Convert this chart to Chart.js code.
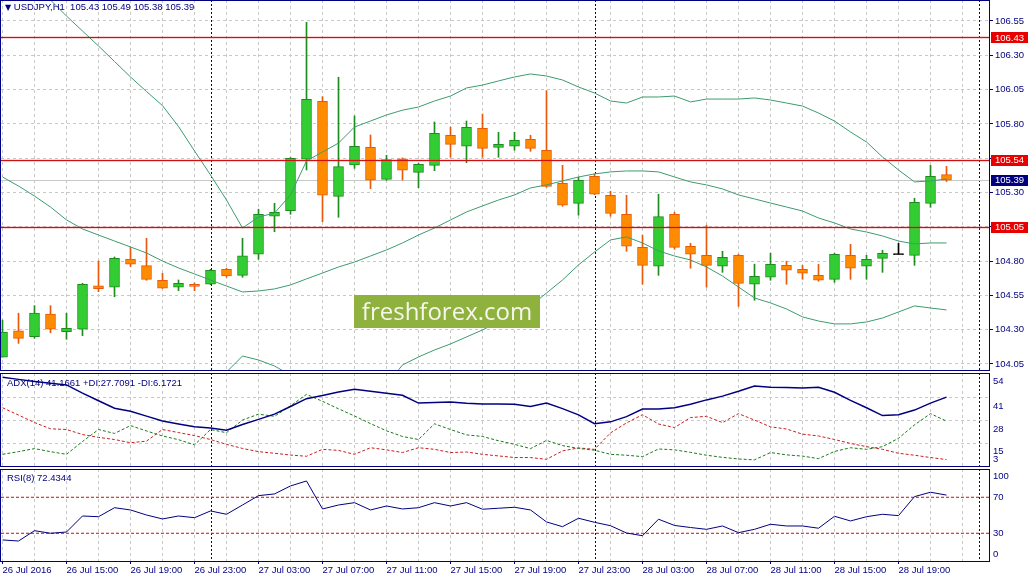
<!DOCTYPE html>
<html>
<head>
<meta charset="utf-8">
<title>USDJPY H1</title>
<script src="https://cdn.jsdelivr.net/npm/chart.js@4.4.1/dist/chart.umd.min.js"></script>
<style>
  html, body { margin: 0; padding: 0; background: #fff; }
  #wrap { position: relative; width: 1031px; height: 581px; overflow: hidden; background: #fff; }
  canvas { position: absolute; left: 0; }
  .txt { position: absolute; z-index: 2; font: 9.5px "Liberation Sans", Arial, sans-serif; color: #000080; white-space: pre; line-height: 12px; }
  #wm { position: absolute; z-index: 3; left: 354px; top: 295px; width: 186px; height: 33px; background: #8fb23f; color: #f6f6ea; font: 24px "Open Sans", sans-serif; line-height: 32px; text-align: center; }
</style>
</head>
<body>
<div id="wrap">
  <canvas id="mainChart" width="1031" height="371" style="top:0"></canvas>
  <canvas id="adxChart" width="1031" height="96" style="top:372px"></canvas>
  <canvas id="rsiChart" width="1031" height="113" style="top:468px"></canvas>
  <div class="txt" style="left:5px;top:1px"><span style="font:8px 'DejaVu Sans'">&#9660;</span> USDJPY,H1  105.43 105.49 105.38 105.39</div>
  <div class="txt" style="left:7px;top:377px">ADX(14) 41.1661 +DI:27.7091 -DI:6.1721</div>
  <div class="txt" style="left:7px;top:472px">RSI(8) 72.4344</div>
  <div id="wm">freshforex.com</div>
</div>
<script>
// ---- candles (H1, 26 Jul 11:00 .. 28 Jul 22:00) ----
const open  = [104.100,104.291,104.249,104.414,104.285,104.303,104.619,104.609,104.815,104.767,
               104.660,104.609,104.631,104.631,104.740,104.696,104.850,105.127,105.167,105.542,
               105.965,105.272,105.500,105.629,105.396,105.546,105.447,105.498,105.717,105.637,
               105.768,105.629,105.637,105.688,105.608,105.367,105.221,105.418,105.280,105.141,
               104.900,104.762,105.141,104.908,104.842,104.762,104.842,104.631,104.682,104.769,
               104.740,104.696,104.667,104.842,104.762,104.820,104.850,104.842,105.221,105.430];
const high  = [104.370,104.420,104.475,104.475,104.420,104.638,104.800,104.830,104.900,104.966,
               104.711,104.662,104.640,104.740,104.748,104.966,105.178,105.221,105.555,106.540,
               105.998,106.140,105.858,105.719,105.571,105.552,105.512,105.814,105.777,105.821,
               105.872,105.739,105.739,105.717,106.042,105.498,105.411,105.435,105.309,105.280,
               104.988,105.287,105.156,104.930,105.061,104.871,104.850,104.777,104.857,104.799,
               104.769,104.777,104.857,104.922,104.842,104.879,104.930,105.258,105.498,105.490];
const low   = [104.100,104.200,104.237,104.278,104.230,104.256,104.577,104.540,104.760,104.660,
               104.600,104.584,104.584,104.628,104.682,104.682,104.813,105.014,105.141,105.464,
               105.087,105.119,105.476,105.328,105.389,105.391,105.335,105.459,105.557,105.517,
               105.557,105.557,105.608,105.600,105.338,105.199,105.134,105.284,105.127,104.871,
               104.631,104.696,104.886,104.748,104.609,104.718,104.470,104.514,104.660,104.631,
               104.667,104.653,104.645,104.667,104.667,104.718,104.850,104.769,105.192,105.380];
const close = [104.283,104.237,104.420,104.303,104.310,104.631,104.599,104.820,104.777,104.667,
               104.602,104.638,104.616,104.733,104.691,104.839,105.141,105.156,105.549,105.979,
               105.280,105.488,105.637,105.389,105.539,105.462,105.506,105.731,105.651,105.775,
               105.622,105.651,105.680,105.622,105.345,105.207,105.389,105.287,105.148,104.908,
               104.769,105.124,104.900,104.850,104.769,104.828,104.638,104.689,104.777,104.733,
               104.711,104.660,104.850,104.748,104.813,104.857,104.850,105.229,105.418,105.390];

// ---- Bollinger bands ----
const bbUpper = [107.030,106.907,106.790,106.703,106.586,106.477,106.368,106.255,106.142,106.036,
                 105.933,105.781,105.603,105.428,105.245,105.041,105.121,105.150,105.282,105.530,
                 105.595,105.660,105.777,105.821,105.865,105.900,105.923,105.967,106.003,106.062,
                 106.083,106.113,106.142,106.164,106.149,106.120,106.069,106.025,105.967,105.952,
                 105.996,105.996,106.003,105.960,105.981,105.981,105.981,105.989,105.974,105.952,
                 105.930,105.879,105.821,105.741,105.668,105.559,105.464,105.377,105.384,105.398];
const bbMiddle = [105.413,105.347,105.274,105.194,105.100,105.034,104.990,104.946,104.903,104.859,
                  104.800,104.750,104.706,104.662,104.618,104.575,104.582,104.597,104.626,104.670,
                  104.713,104.757,104.793,104.837,104.881,104.932,104.990,105.041,105.100,105.158,
                  105.202,105.245,105.282,105.333,105.355,105.384,105.413,105.435,105.450,105.457,
                  105.457,105.450,105.413,105.377,105.355,105.326,105.282,105.253,105.223,105.194,
                  105.165,105.114,105.078,105.034,105.012,104.983,104.946,104.925,104.932,104.932];
const bbLower = [103.796,103.787,103.758,103.685,103.614,103.591,103.612,103.637,103.664,103.682,
                 103.667,103.719,103.809,103.896,103.991,104.108,104.079,104.035,103.970,103.810,
                 103.831,103.854,103.809,103.853,103.897,104.043,104.101,104.152,104.196,104.247,
                 104.298,104.356,104.407,104.473,104.567,104.662,104.772,104.866,104.954,104.976,
                 104.932,104.874,104.837,104.808,104.757,104.691,104.611,104.531,104.495,104.451,
                 104.393,104.363,104.342,104.342,104.356,104.385,104.429,104.473,104.458,104.444];

// ---- ADX(14) ----
const adx     = [52.3,51.1,49.9,48.9,48.0,43.4,39.1,34.9,33.2,30.5,
                 27.8,26.1,24.5,23.9,22.6,25.8,28.7,31.6,35.9,40.3,
                 42.1,44.0,45.6,44.5,43.3,42.2,37.8,38.1,38.4,37.7,
                 37.3,37.3,37.2,35.9,37.8,34.7,31.2,26.3,27.3,30.2,
                 34.5,34.5,35.2,37.2,39.6,41.7,44.4,47.4,46.7,46.6,
                 46.3,46.7,43.9,39.3,35.2,30.8,31.3,33.9,37.8,41.17];
const plusDI  = [9.1,10.6,12.3,10.6,9.1,16.3,23.0,20.8,25.2,22.2,
                 19.4,17.3,14.4,23.0,21.2,28.3,31.6,30.4,36.3,42.7,
                 38.8,34.6,30.6,26.3,22.3,19.1,17.4,26.2,23.0,20.0,
                 19.1,16.7,14.7,12.3,16.9,14.0,12.4,11.4,9.1,8.6,
                 7.8,12.1,11.6,10.2,8.6,7.4,6.5,6.0,10.1,8.8,
                 8.1,6.7,10.7,12.8,11.9,13.4,18.1,25.6,31.9,27.7];
const minusDI = [35.2,31.1,26.9,23.4,23.0,20.2,18.6,17.4,15.6,16.5,
                 23.0,21.3,19.6,17.4,14.7,12.4,10.6,9.7,8.7,8.0,
                 11.9,11.3,9.1,12.8,11.6,10.1,12.8,11.9,10.1,10.4,
                 9.1,8.2,7.3,7.3,6.3,11.0,12.7,11.9,21.1,26.7,
                 31.3,26.1,24.1,29.7,30.4,26.9,31.9,28.3,24.5,23.3,
                 20.4,19.4,17.4,15.2,13.4,11.9,9.7,8.6,7.3,6.17];

// ---- RSI(8) ----
const rsi = [22.6,21.4,32.9,30.0,31.4,49.2,48.4,58.4,55.9,50.3,
             45.9,49.2,47.3,54.8,51.1,61.4,71.8,73.7,82.6,88.1,
             57.0,61.4,64.0,55.9,60.3,57.0,58.4,64.0,60.3,64.0,
             56.7,57.8,58.9,55.9,42.6,37.3,46.7,42.2,38.4,30.3,
             27.3,45.6,38.7,36.4,34.4,38.1,30.7,34.4,40.0,38.1,
             38.1,35.6,48.9,43.7,48.4,51.1,49.6,70.7,75.6,72.4];

// ---- levels, ticks, labels ----
const redLevels = [106.43, 105.54, 105.05];
const bidLevel = 105.39;
const priceTicks = [104.05, 104.30, 104.55, 104.80, 105.05, 105.30, 105.55, 105.80, 106.05, 106.30, 106.55];
const adxTicks = [54, 41, 28, 15, 3];
const rsiTicks = [100, 70, 30, 0];
const rsiLevels = [70, 30];
const timeTickIdx = [0, 4, 8, 12, 16, 20, 24, 28, 32, 36, 40, 44, 48, 52, 56];
const timeTickText = ['26 Jul 2016', '26 Jul 15:00', '26 Jul 19:00', '26 Jul 23:00', '27 Jul 03:00',
                      '27 Jul 07:00', '27 Jul 11:00', '27 Jul 15:00', '27 Jul 19:00', '27 Jul 23:00',
                      '28 Jul 03:00', '28 Jul 07:00', '28 Jul 11:00', '28 Jul 15:00', '28 Jul 19:00'];
const daySeparators = [13, 37, 61];

// ---- style ----
const X_MIN = -0.094, X_MAX = 61.656;
const NAVY = '#000080';
const GRID = '#c8c8c8';
const FONT = '"Liberation Sans", Arial, sans-serif';
const BULL = '#32cd32', BULL_EDGE = '#1e8c1e';
const BEAR = '#ff8c00', BEAR_EDGE = '#e8590c';
const BAND = '#3c9c6e';
const LEVEL = '#d01010';
const adxTickDy = [7, 8, 8, 7.5, -6];
const rsiTickDy = [5.5, 0, 0, -6];

const idx = close.map((_, i) => i);
const gridIdx = [];
for (let i = 0; i <= 60; i += 2) gridIdx.push(i);

function series(arr) { return idx.map(i => ({ x: i, y: arr[i] })); }
function hline(v) { return [{ x: X_MIN, y: v }, { x: X_MAX, y: v }]; }
function candleFill(i) { const d = close[i] - open[i]; return d > 0 ? BULL : d < 0 ? BEAR : '#000'; }
function candleEdge(i) { const d = close[i] - open[i]; return d > 0 ? BULL_EDGE : d < 0 ? BEAR_EDGE : '#000'; }
function timeLabel(v) { const k = timeTickIdx.indexOf(v); return k < 0 ? '' : timeTickText[k]; }

// separators + panel frame
const frame = {
  id: 'frame',
  beforeDatasetsDraw(chart) {
    const { ctx, chartArea: a, scales: { x } } = chart;
    ctx.save();
    ctx.strokeStyle = NAVY;
    ctx.lineWidth = 1;
    ctx.setLineDash([2, 2]);
    daySeparators.forEach(d => {
      const px = Math.round(x.getPixelForValue(d)) + 0.5;
      ctx.beginPath(); ctx.moveTo(px, a.top); ctx.lineTo(px, a.bottom); ctx.stroke();
    });
    ctx.restore();
  },
  afterDraw(chart) {
    const { ctx, chartArea: a } = chart;
    ctx.save();
    ctx.strokeStyle = NAVY;
    ctx.lineWidth = 1;
    ctx.strokeRect(a.left - 0.5, a.top + 0.5, a.right - a.left + 1, a.bottom - a.top);
    ctx.restore();
  }
};

// horizontal price levels, snapped to whole pixels (optional soft halo)
function hLines(id, levels, color, halo, under) {
  const draw = chart => {
    const { ctx, chartArea: a, scales: { y } } = chart;
    ctx.save();
    levels.forEach(v => {
      const py = Math.round(y.getPixelForValue(v)) + 0.5;
      if (halo) {
        ctx.strokeStyle = halo; ctx.lineWidth = 3;
        ctx.beginPath(); ctx.moveTo(a.left, py); ctx.lineTo(a.right, py); ctx.stroke();
      }
      ctx.strokeStyle = color; ctx.lineWidth = 1;
      ctx.beginPath(); ctx.moveTo(a.left, py); ctx.lineTo(a.right, py); ctx.stroke();
    });
    ctx.restore();
  };
  return under ? { id, beforeDatasetsDraw: draw } : { id, afterDatasetsDraw: draw };
}

// text on the right side (sub-panel scales, level boxes)
function sideLabels(items) {
  return {
    id: 'sideLabels',
    afterDraw(chart) {
      const { ctx, chartArea: a, scales: { y } } = chart;
      ctx.save();
      ctx.font = '9.5px ' + FONT;
      ctx.textBaseline = 'middle';
      items.forEach(it => {
        const py = y.getPixelForValue(it.value) + (it.dy || 0);
        if (it.box) {
          ctx.fillStyle = it.box;
          ctx.fillRect(a.right + 2, Math.round(py) - 5, 37, 11);
        }
        ctx.fillStyle = it.color || NAVY;
        ctx.fillText(it.text, a.right + (it.dx || 6), py + 0.5);
      });
      ctx.restore();
    }
  };
}

function xScale(extra) {
  return Object.assign({
    type: 'linear', min: X_MIN, max: X_MAX, offset: false,
    afterBuildTicks: s => { s.ticks = gridIdx.map(v => ({ value: v })); },
    afterFit: s => { s.height = 0; s.paddingLeft = 0; s.paddingRight = 0; },
    ticks: { display: false },
    grid: { color: GRID, offset: false, drawTicks: false },
    border: { display: false, dash: [3, 3] }
  }, extra || {});
}

const common = {
  responsive: false,
  animation: false,
  devicePixelRatio: 1,
  events: [],
  plugins: { legend: { display: false }, tooltip: { enabled: false } }
};

// ========================
// MAIN PRICE PANEL
// ========================
new Chart(document.getElementById('mainChart'), {
  type: 'bar',
  data: {
    datasets: [
      { type: 'bar', data: idx.map(i => ({ x: i, y: [low[i], high[i]] })), grouped: false, barThickness: 1,
        backgroundColor: c => candleEdge(c.dataIndex), borderWidth: 0, order: 6 },
      { type: 'bar', grouped: false, barThickness: 10, borderWidth: 1, borderSkipped: false, order: 5,
        data: idx.map(i => ({ x: i, y: open[i] === close[i] ? [open[i] - 0.004, open[i] + 0.004]
                                          : [Math.min(open[i], close[i]), Math.max(open[i], close[i])] })),
        backgroundColor: c => candleFill(c.dataIndex), borderColor: c => candleEdge(c.dataIndex) },
      { type: 'line', data: series(bbUpper), borderColor: BAND, borderWidth: 1, pointRadius: 0, order: 3 },
      { type: 'line', data: series(bbMiddle), borderColor: BAND, borderWidth: 1, pointRadius: 0, order: 3 },
      { type: 'line', data: series(bbLower), borderColor: BAND, borderWidth: 1, pointRadius: 0, order: 3 }
    ]
  },
  options: Object.assign({}, common, {
    layout: { padding: { left: 1, right: 0, top: 0, bottom: 1 } },
    scales: {
      x: xScale(),
      y: {
        position: 'right', min: 104.006, max: 106.703,
        afterBuildTicks: s => { s.ticks = priceTicks.map(v => ({ value: v })); },
        afterFit: s => { s.width = 42; s.paddingTop = 0; s.paddingBottom = 0; },
        ticks: { color: NAVY, font: { family: FONT, size: 9.5 }, padding: 2, callback: v => v.toFixed(2) },
        grid: { color: GRID, tickColor: NAVY, tickLength: 4 },
        border: { display: false, dash: [3, 3] }
      }
    }
  }),
  plugins: [
    frame,
    hLines('bidLine', [bidLevel], '#c8c8c8', null, true),
    hLines('redLines', redLevels, LEVEL, 'rgba(230,60,60,0.22)', false),
    sideLabels(
      redLevels.map(v => ({ value: v, text: v.toFixed(2), box: '#e80000', color: '#fff' }))
        .concat([{ value: bidLevel, text: bidLevel.toFixed(2), box: NAVY, color: '#fff' }])
    )
  ]
});

// ========================
// ADX PANEL
// ========================
new Chart(document.getElementById('adxChart'), {
  type: 'line',
  data: {
    datasets: [
      { data: series(adx), borderColor: NAVY, borderWidth: 1.5, pointRadius: 0 },
      { data: series(plusDI), borderColor: '#1a7a1a', borderWidth: 1, borderDash: [3, 2], pointRadius: 0 },
      { data: series(minusDI), borderColor: '#c82020', borderWidth: 1, borderDash: [3, 2], pointRadius: 0 }
    ]
  },
  options: Object.assign({}, common, {
    layout: { padding: { left: 1, right: 0, top: 1, bottom: 2 } },
    scales: {
      x: xScale(),
      y: {
        position: 'right', min: 2.56, max: 54.67,
        afterBuildTicks: s => { s.ticks = adxTicks.slice(1, -1).map(v => ({ value: v })); },
        afterFit: s => { s.width = 42; s.paddingTop = 0; s.paddingBottom = 0; },
        ticks: { display: false },
        grid: { color: GRID, drawTicks: false },
        border: { display: false, dash: [3, 3] }
      }
    }
  }),
  plugins: [frame, sideLabels(adxTicks.map((v, k) => ({ value: v, text: String(v), dy: adxTickDy[k], dx: 4 })))]
});

// ========================
// RSI PANEL
// ========================
new Chart(document.getElementById('rsiChart'), {
  type: 'line',
  data: {
    datasets: [
      { data: series(rsi), borderColor: NAVY, borderWidth: 1, pointRadius: 0 },
      ...rsiLevels.map(v => ({ data: hline(v), borderColor: '#c01010', borderWidth: 1, borderDash: [3, 2], pointRadius: 0 }))
    ]
  },
  options: Object.assign({}, common, {
    layout: { padding: { left: 1, right: 0, top: 1, bottom: 0 } },
    scales: {
      x: xScale({
        afterFit: s => { s.height = 20; s.paddingLeft = 0; s.paddingRight = 0; },
        ticks: { display: true, autoSkip: false, maxRotation: 0, minRotation: 0, align: 'start', padding: 1,
                 color: NAVY, font: { family: FONT, size: 9.5 }, callback: v => timeLabel(v) },
        grid: { color: GRID, offset: false, tickLength: 3,
                tickColor: c => (c.tick && timeLabel(c.tick.value)) ? NAVY : 'rgba(0,0,0,0)' }
      }),
      y: {
        position: 'right', min: -0.8, max: 101.4,
        afterFit: s => { s.width = 42; s.paddingTop = 0; s.paddingBottom = 0; },
        ticks: { display: false },
        grid: { display: false },
        border: { display: false }
      }
    }
  }),
  plugins: [frame, sideLabels(rsiTicks.map((v, k) => ({ value: v, text: String(v), dy: rsiTickDy[k], dx: 4 })))]
});
</script>
</body>
</html>
